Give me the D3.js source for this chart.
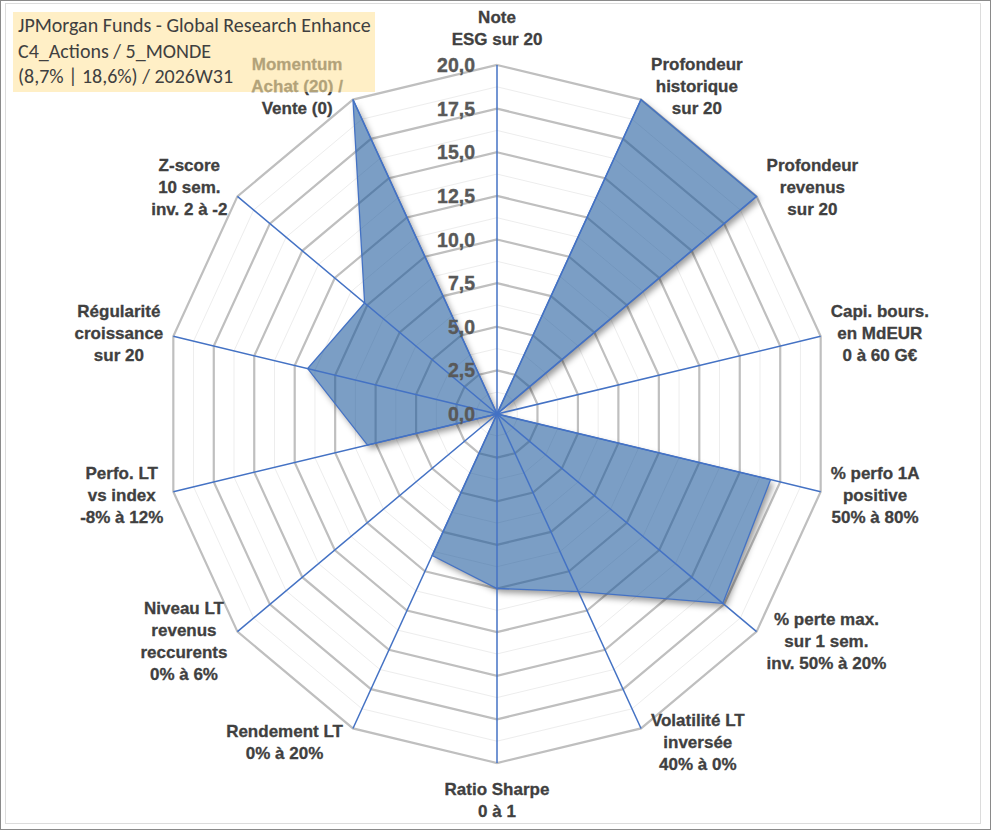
<!DOCTYPE html>
<html>
<head>
<meta charset="utf-8">
<script src="https://cdn.jsdelivr.net/npm/d3@7"></script>
<style>
  body { margin: 0; background: #fff; }
  svg { display: block; }
  .lab { font-family: "Liberation Sans", Arial, Helvetica, sans-serif; font-weight: bold; }
</style>
</head>
<body>
<div id="chart"></div>
<script>
// axis labels, one entry per spoke, clockwise from the top
const categories = [
    "Note\nESG sur 20",
    "Profondeur\nhistorique\nsur 20",
    "Profondeur\nrevenus\nsur 20",
    "Capi. bours.\nen MdEUR\n0 à 60 G€",
    "% perfo 1A\npositive\n50% à 80%",
    "% perte max.\nsur 1 sem.\ninv. 50% à 20%",
    "Volatilité LT\ninversée\n40% à 0%",
    "Ratio Sharpe\n0 à 1",
    "Rendement LT\n0% à 20%",
    "Niveau LT\nrevenus\nreccurents\n0% à 6%",
    "Perfo. LT\nvs index\n-8% à 12%",
    "Régularité\ncroissance\nsur 20",
    "Z-score\n10 sem.\ninv. 2 à -2",
    "Momentum\nAchat (20) /\nVente (0)"
];
// scores (0..20)
const values = [0, 20, 20, 0, 16.9, 17.4, 11.3, 10, 9, 0, 8, 11.7, 10.2, 20];
// radial ticks
const tickValues = [0, 2.5, 5, 7.5, 10, 12.5, 15, 17.5, 20];
const minorTickValues = [1.25, 3.75, 6.25, 8.75, 11.25, 13.75, 16.25, 18.75];
const titleLines = [
    "JPMorgan Funds - Global Research Enhance",
    "C4_Actions / 5_MONDE",
    "(8,7% | 18,6%) / 2026W31"
];

const width = 991, height = 830;
const center = {x: 497, y: 414};
const rx = 332, ry = 349;   // the plot area is a little squashed horizontally
const n = categories.length;

const r = d3.scaleLinear().domain([0, 20]).range([0, 1]);
const angle = d3.scaleLinear().domain([0, n]).range([0, 2 * Math.PI]);
const fr = d3.formatLocale({decimal: ",", thousands: " ", grouping: [3], currency: ["", "€"]});
const fmt = fr.format(".1f");

function pt(i, v) {
    const a = angle(i), k = r(v);
    return [center.x + rx * k * Math.sin(a), center.y - ry * k * Math.cos(a)];
}
function ring(v) {
    return d3.range(n).map(i => pt(i, v));
}
const line = d3.line().curve(d3.curveLinearClosed);

const svg = d3.select("#chart").append("svg")
    .attr("width", width)
    .attr("height", height);

// frame
svg.append("rect")
    .attr("x", 0.5).attr("y", 0.5)
    .attr("width", width - 1).attr("height", height - 1)
    .attr("fill", "#fff").attr("stroke", "#8a8a8a");
svg.append("rect")
    .attr("x", 5.5).attr("y", 3.5)
    .attr("width", 975).attr("height", 820)
    .attr("fill", "none").attr("stroke", "#dcdcdc");

const defs = svg.append("defs");
defs.append("filter").attr("id", "blur")
    .attr("x", "-10%").attr("y", "-10%").attr("width", "120%").attr("height", "120%")
    .append("feGaussianBlur").attr("stdDeviation", 3);
const mask = defs.append("mask").attr("id", "outside")
    .attr("maskUnits", "userSpaceOnUse")
    .attr("x", 0).attr("y", 0).attr("width", width).attr("height", height);
mask.append("rect").attr("width", width).attr("height", height).attr("fill", "#fff");
mask.append("path").attr("d", line(values.map((v, i) => pt(i, v)))).attr("fill", "#000");

// grid rings
const gridG = svg.append("g").attr("fill", "none");
gridG.selectAll("path.minor")
    .data(minorTickValues)
    .join("path")
    .attr("class", "minor")
    .attr("d", d => line(ring(d)))
    .attr("stroke", "#ededed")
    .attr("stroke-width", 1);
gridG.selectAll("path.major")
    .data(tickValues.filter(d => d > 0))
    .join("path")
    .attr("class", "major")
    .attr("d", d => line(ring(d)))
    .attr("stroke", "#bfbfbf")
    .attr("stroke-width", 2.2)
    .attr("stroke-linejoin", "miter");

// series
const seriesPts = values.map((v, i) => pt(i, v));
svg.append("g")
    .attr("mask", "url(#outside)")
    .append("path")
    .attr("d", line(seriesPts))
    .attr("transform", "translate(3,4)")
    .attr("fill", "#000")
    .attr("fill-opacity", 0.4)
    .attr("filter", "url(#blur)");
svg.append("path")
    .attr("d", line(seriesPts))
    .attr("fill", "rgb(28,88,155)")
    .attr("fill-opacity", 0.58)
    .attr("stroke", "#4472c4")
    .attr("stroke-width", 1.3)
    .attr("stroke-linejoin", "miter");

// spokes
svg.append("g")
    .selectAll("line")
    .data(d3.range(n))
    .join("line")
    .attr("x1", center.x).attr("y1", center.y)
    .attr("x2", i => pt(i, 20)[0])
    .attr("y2", i => pt(i, 20)[1])
    .attr("stroke", "#4472c4")
    .attr("stroke-width", 1.5);

// radial tick labels
svg.append("g")
    .attr("class", "lab")
    .attr("font-size", 19.5)
    .attr("fill", "#595959")
    .attr("stroke", "#595959")
    .attr("stroke-width", 0.35)
    .attr("text-anchor", "end")
    .selectAll("text")
    .data(tickValues)
    .join("text")
    .attr("x", center.x - 22)
    .attr("y", d => center.y - ry * r(d))
    .attr("dy", "0.36em")
    .text(d => fmt(d));

// category labels
const lh = 22;
const labG = svg.append("g")
    .attr("class", "lab")
    .attr("font-size", 17)
    .attr("fill", "#404040")
    .attr("stroke", "#404040")
    .attr("stroke-width", 0.3)
    .attr("text-anchor", "middle");

categories.forEach((label, i) => {
    const lines = label.split("\n");
    const a = angle(i), s = Math.sin(a), c = Math.cos(a);
    const [vx, vy] = pt(i, 20);
    const t = labG.append("text");
    lines.forEach(l => t.append("tspan").text(l));
    let w = 0;
    t.selectAll("tspan").each(function () { w = Math.max(w, this.getComputedTextLength()); });
    let lx, ly;
    if (Math.abs(s) < 0.01) {
        lx = vx;
        ly = vy - Math.sign(c) * (lines.length * lh / 2 + 15);
    } else {
        lx = vx + Math.sign(s) * (w / 2 + 10);
        ly = vy - c * 15;
    }
    t.selectAll("tspan")
        .attr("x", lx)
        .attr("y", (d, k) => ly + (k - (lines.length - 1) / 2) * lh)
        .attr("dy", "0.36em");
});

// title box (semi transparent, sits over the Momentum label)
svg.append("rect")
    .attr("x", 13).attr("y", 12)
    .attr("width", 362).attr("height", 80)
    .attr("fill", "rgb(255,228,160)")
    .attr("fill-opacity", 0.6);
svg.append("g")
    .attr("font-family", "Carlito, Calibri, Lato, sans-serif")
    .attr("font-size", 20)
    .attr("fill", "#404040")
    .selectAll("text")
    .data(titleLines)
    .join("text")
    .attr("x", 18)
    .attr("y", (d, k) => 32 + k * 25.5)
    .text(d => d);
</script>
</body>
</html>
